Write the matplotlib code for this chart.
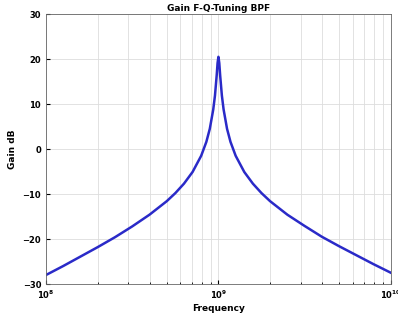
import matplotlib
matplotlib.use("Agg")
import matplotlib.pyplot as plt
from matplotlib.ticker import LogLocator, FixedLocator, NullFormatter

# Log10 of frequency and gain (dB)
log_freq = [8.0, 8.1, 8.2, 8.3, 8.4, 8.5, 8.6, 8.7, 8.75, 8.8, 8.85, 8.9, 8.93, 8.95,
            8.97, 8.98, 8.99, 8.995, 9.0, 9.005, 9.01, 9.02, 9.03, 9.05, 9.07, 9.1,
            9.15, 9.2, 9.25, 9.3, 9.4, 9.5, 9.6, 9.7, 9.8, 9.9, 10.0]
gain_db = [-28.0, -26.0, -23.9, -21.8, -19.6, -17.2, -14.6, -11.6, -9.8, -7.7, -5.1, -1.5,
           1.6, 4.5, 8.8, 11.9, 16.4, 19.1, 20.5, 19.1, 16.4, 11.9, 8.8, 4.5, 1.6, -1.5,
           -5.1, -7.7, -9.8, -11.6, -14.6, -17.1, -19.5, -21.6, -23.6, -25.6, -27.5]
freq = [10 ** v for v in log_freq]

title = "Gain F-Q-Tuning BPF"
xlabel = "Frequency"
ylabel = "Gain dB"
yticks = [-30, -20, -10, 0, 10, 20, 30]

plt.rcParams['font.family'] = ['DejaVu Sans']
fig = plt.figure(figsize=(3.98, 3.2), dpi=100)
ax = fig.add_axes([0.1156, 0.1125, 0.8664, 0.8435])
ax.semilogx(freq, gain_db, color='#2a2ac8', linewidth=1.8)
ax.set_xlim(1e8, 1e10)
ax.set_ylim(-30, 30)
ax.set_yticks(yticks)
ax.xaxis.set_major_locator(FixedLocator([1e8, 1e9, 1e10]))
ax.xaxis.set_minor_locator(LogLocator(base=10, subs=range(2, 10)))
ax.xaxis.set_minor_formatter(NullFormatter())
ax.grid(True, which='major', color='#dddddd', linewidth=0.6)
ax.grid(True, which='minor', axis='x', color='#dddddd', linewidth=0.6)
ax.tick_params(direction='in', labelsize=6, length=3)
ax.tick_params(which='minor', direction='in', length=1.5)
for lab in ax.get_xticklabels() + ax.get_yticklabels():
    lab.set_fontweight('bold')
for s in ax.spines.values():
    s.set_color('#666666')
    s.set_linewidth(0.6)
ax.set_title(title, fontsize=6.5, fontweight='bold', pad=2)
ax.set_xlabel(xlabel, fontsize=6.5, fontweight='bold', labelpad=2)
ax.set_ylabel(ylabel, fontsize=6.5, fontweight='bold', labelpad=4)
fig.savefig("out.png", dpi=100)
